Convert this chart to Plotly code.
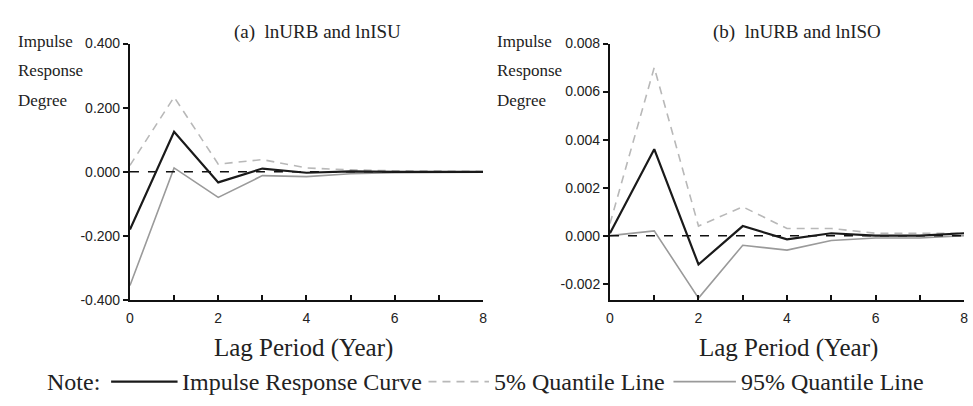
import plotly.graph_objects as go

W, H = 973, 406

lags = [0, 1, 2, 3, 4, 5, 6, 7, 8]

# Panel (a): lnURB and lnISU
a_impulse = [-0.180, 0.125, -0.033, 0.010, -0.003, 0.001, 0.000, 0.000, 0.000]
a_q05 = [0.020, 0.233, 0.024, 0.038, 0.012, 0.006, 0.003, 0.002, 0.001]
a_q95 = [-0.355, 0.012, -0.080, -0.012, -0.015, -0.006, -0.003, -0.002, -0.001]

# Panel (b): lnURB and lnISO
b_impulse = [0.0001, 0.0036, -0.0012, 0.0004, -0.00015, 0.0001, 0.0000, 0.0000, 0.0001]
b_q05 = [0.0005, 0.0070, 0.0004, 0.0012, 0.0003, 0.0003, 0.0001, 0.0001, 0.0001]
b_q95 = [0.0000, 0.0002, -0.0026, -0.0004, -0.0006, -0.0002, -0.0001, -0.0001, 0.0000]

a_yticks = [-0.4, -0.2, 0.0, 0.2, 0.4]
a_yticktext = ["-0.400", "-0.200", "0.000", "0.200", "0.400"]
b_yticks = [-0.002, 0.0, 0.002, 0.004, 0.006, 0.008]
b_yticktext = ["-0.002", "0.000", "0.002", "0.004", "0.006", "0.008"]
xticktext = ["0", "", "2", "", "4", "", "6", "", "8"]

titles = ["(a)  lnURB and lnISU", "(b)  lnURB and lnISO"]
ytitle_lines = ["Impulse", "Response", "Degree"]
xtitle = "Lag Period (Year)"
legend_labels = ["Impulse Response Curve", "5% Quantile Line", "95% Quantile Line"]

SERIF = "Liberation Serif, Times New Roman, serif"
NARROW = "Liberation Sans Narrow, Arial Narrow, Liberation Sans, sans-serif"

def px(x):
    return x / W

def py(y):
    return 1 - y / H

fig = go.Figure()

IMP = dict(color="#1a1a1a", width=2.2)
Q05 = dict(color="#b8b8b8", width=1.6, dash="8px,6px")
Q95 = dict(color="#9a9a9a", width=1.6)

panels = [
    ("x", "y", a_impulse, a_q05, a_q95),
    ("x2", "y2", b_impulse, b_q05, b_q95),
]
for xa, ya, imp, q5, q95 in panels:
    fig.add_trace(go.Scatter(x=lags, y=q5, mode="lines", line=Q05, xaxis=xa, yaxis=ya, showlegend=False))
    fig.add_trace(go.Scatter(x=lags, y=q95, mode="lines", line=Q95, xaxis=xa, yaxis=ya, showlegend=False))
    fig.add_trace(go.Scatter(x=[0, 8], y=[0, 0], mode="lines", line=dict(color="#111", width=1.5, dash="dash"),
                             xaxis=xa, yaxis=ya, showlegend=False))
    fig.add_trace(go.Scatter(x=lags, y=imp, mode="lines", line=IMP, xaxis=xa, yaxis=ya, showlegend=False))

x_common = dict(
    range=[0, 8], tickmode="array", tickvals=lags, ticktext=xticktext,
    ticks="inside", ticklen=5, tickwidth=1.5, tickcolor="#111", ticklabelstandoff=4,
    showline=True, linecolor="#111", linewidth=2, showgrid=False, zeroline=False,
    tickfont=dict(family=NARROW, size=14, color="#222"), fixedrange=True,
)
y_common = dict(
    tickmode="array", ticks="outside", ticklen=5, tickwidth=1.5, tickcolor="#111",
    showline=True, linecolor="#111", linewidth=2, showgrid=False, zeroline=False,
    tickfont=dict(family=NARROW, size=14, color="#222"), fixedrange=True,
)

top, bottom = 37, 304
fig.update_layout(
    width=W, height=H, margin=dict(l=0, r=0, t=0, b=0),
    paper_bgcolor="white", plot_bgcolor="white", showlegend=False,
    xaxis=dict(domain=[px(127), px(483)], anchor="y", **x_common),
    yaxis=dict(domain=[py(bottom), py(top)], anchor="x", range=[-0.4, 0.4],
               tickvals=a_yticks, ticktext=a_yticktext, **y_common),
    xaxis2=dict(domain=[px(611), px(968)], anchor="y2", **x_common),
    yaxis2=dict(domain=[py(bottom), py(top)], anchor="x2", range=[-0.00268, 0.008],
                tickvals=b_yticks, ticktext=b_yticktext, **y_common),
)

ann = []
# titles
for t, cx in zip(titles, [316, 800]):
    ann.append(dict(x=px(cx), y=py(25), xref="paper", yref="paper", text=t, showarrow=False,
                    font=dict(family=SERIF, size=19, color="#222"), xanchor="center", yanchor="middle"))
# y titles
for left in [12, 495]:
    for line, yy in zip(ytitle_lines, [35, 65, 96]):
        ann.append(dict(x=px(left), y=py(yy), xref="paper", yref="paper", text=line, showarrow=False,
                        font=dict(family=SERIF, size=17, color="#222"), xanchor="left", yanchor="middle"))
# x titles
for cx in [302, 791]:
    ann.append(dict(x=px(cx), y=py(354), xref="paper", yref="paper", text=xtitle, showarrow=False,
                    font=dict(family=SERIF, size=25, color="#222"), xanchor="center", yanchor="middle"))

# legend (note row)
ly = 389
ann.append(dict(x=px(41), y=py(ly), xref="paper", yref="paper", text="Note:", showarrow=False,
                font=dict(family=SERIF, size=24, color="#222"), xanchor="left", yanchor="middle"))
legend_items = [
    (108, 175, IMP, legend_labels[0], 177),
    (428, 489, Q05, legend_labels[1], 492),
    (675, 738, Q95, legend_labels[2], 741),
]
shapes = []
for x0, x1, ln, label, tx in legend_items:
    shapes.append(dict(type="line", xref="paper", yref="paper", x0=px(x0), x1=px(x1), y0=py(ly), y1=py(ly),
                       line=dict(color=ln["color"], width=ln["width"], dash=ln.get("dash", "solid"))))
    ann.append(dict(x=px(tx), y=py(ly), xref="paper", yref="paper", text=label, showarrow=False,
                    font=dict(family=SERIF, size=24, color="#222"), xanchor="left", yanchor="middle"))

fig.update_layout(annotations=ann, shapes=shapes)
fig.write_html("out.html")
